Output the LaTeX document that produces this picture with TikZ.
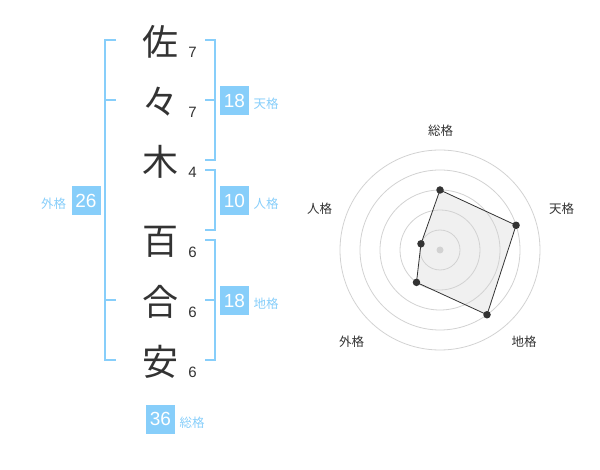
\documentclass[tikz,border=0pt]{standalone}
\usepackage{fontspec}
\setmainfont{Liberation Sans}
\newfontfamily\jpfont{Noto Sans CJK JP}
\definecolor{kblue}{RGB}{135,206,250}
\definecolor{kdark}{RGB}{51,51,51}
\definecolor{kring}{RGB}{210,210,210}
\definecolor{kfill}{RGB}{240,240,240}
\tikzset{
  kanji/.style={inner sep=0pt, text=kdark, font=\jpfont\fontsize{36}{36}\selectfont},
  strokes/.style={inner sep=0pt, text=kdark, font=\fontsize{15}{15}\selectfont},
  numbox/.style={fill=kblue, text=white, minimum size=29pt, inner sep=0pt, font=\fontsize{19}{19}\selectfont},
  bluelabel/.style={inner sep=0pt, text=kblue, font=\jpfont\fontsize{12.5}{12.5}\selectfont},
  radlabel/.style={inner sep=0pt, text=kdark, font=\jpfont\fontsize{12.5}{12.5}\selectfont},
  bracket/.style={draw=kblue, line width=2pt},
  ring/.style={draw=kring, line width=0.8pt},
  vdot/.style={circle, fill=kdark, inner sep=0pt, minimum size=7.5pt},
}
\begin{document}
\begin{tikzpicture}[x=1pt,y=-1pt]
\useasboundingbox (0,0) rectangle (600,470);
% characters
\node[kanji] (c1) at (160.5,42) {佐};
\node[kanji] (c2) at (160.5,102) {々};
\node[kanji] (c3) at (160.5,162) {木};
\node[kanji] (c4) at (160.5,242) {百};
\node[kanji] (c5) at (160.5,302) {合};
\node[kanji] (c6) at (160.5,362) {安};
% stroke counts
\node[strokes] (s1) at (192.5,52.5) {7};
\node[strokes] (s2) at (192.5,112.5) {7};
\node[strokes] (s3) at (192.5,172.5) {4};
\node[strokes] (s4) at (192.5,252.5) {6};
\node[strokes] (s5) at (192.5,312.5) {6};
\node[strokes] (s6) at (192.5,372.5) {6};
% left bracket (gaikaku)
\draw[bracket] (116,40) -- (105,40) -- (105,360) -- (116,360);
\draw[bracket] (105,100) -- (116,100);
\draw[bracket] (105,300) -- (116,300);
% right brackets
\draw[bracket] (205,40) -- (214.5,40) -- (214.5,160) -- (205,160);
\draw[bracket] (205,100) -- (214.5,100);
\draw[bracket] (205,170) -- (214.5,170) -- (214.5,230) -- (205,230);
\draw[bracket] (205,240) -- (214.5,240) -- (214.5,360) -- (205,360);
\draw[bracket] (205,300) -- (214.5,300);
% number boxes
\node[numbox] (gai) at (86,200.5) {26};
\node[bluelabel] (gail) at (53.5,203.5) {外格};
\node[numbox] (ten) at (234.5,100.5) {18};
\node[bluelabel] (tenl) at (266,104) {天格};
\node[numbox] (jin) at (234.5,200.5) {10};
\node[bluelabel] (jinl) at (266,204) {人格};
\node[numbox] (chi) at (234.5,300.5) {18};
\node[bluelabel] (chil) at (266,304) {地格};
\node[numbox] (sou) at (160.5,419) {36};
\node[bluelabel] (soul) at (192,422.5) {総格};
% radar
\begin{scope}[shift={(440,250)}, x=1pt, y=1pt]
  \coordinate (pS) at (90:60);
  \coordinate (pT) at (18:80);
  \coordinate (pC) at (-54:80);
  \coordinate (pG) at (-126:40);
  \coordinate (pJ) at (162:20);
  \fill[kfill] (pS) -- (pT) -- (pC) -- (pG) -- (pJ) -- cycle;
  \foreach \r in {20,40,60,80,100} \draw[ring] (0,0) circle (\r);
  \node[circle, fill=kring, inner sep=0pt, minimum size=7pt] (ctr) at (0,0) {};
  \draw[draw=kdark, line width=0.8pt] (pS) -- (pT) -- (pC) -- (pG) -- (pJ) -- cycle;
  \foreach \p in {pS,pT,pC,pG,pJ} \node[vdot] at (\p) {};
\end{scope}
\node[radlabel] (lS) at (440.5,130.5) {総格};
\node[radlabel] (lT) at (561.5,208.5) {天格};
\node[radlabel] (lC) at (524,341.5) {地格};
\node[radlabel] (lG) at (351.5,341.5) {外格};
\node[radlabel] (lJ) at (319.5,208.5) {人格};
\end{tikzpicture}
\end{document}
